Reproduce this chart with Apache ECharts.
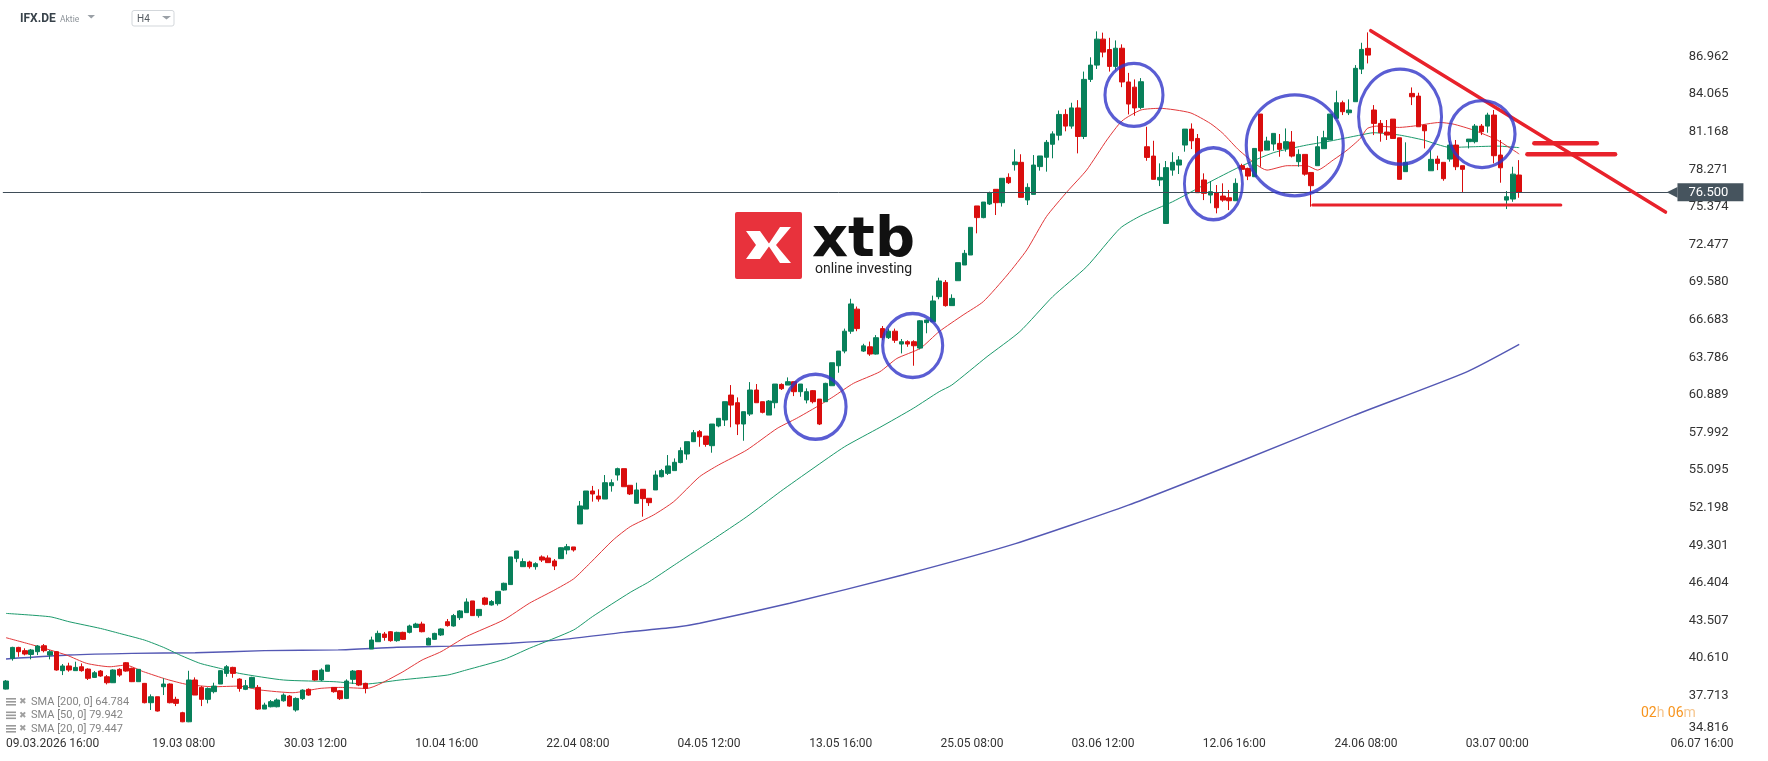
<!DOCTYPE html>
<html>
<head>
<meta charset="utf-8">
<script src="https://cdn.jsdelivr.net/npm/echarts@6/dist/echarts.min.js"></script>
<style>
  html, body { margin: 0; padding: 0; background: #fff; }
  #chart { width: 1768px; height: 761px; }
</style>
</head>
<body>
<div id="chart"></div>
<script>
// H4 candles, each row is [open, close, low, high]
const candlesMar = [
  [38.23, 38.85, 38.20, 38.93], [40.60, 41.44, 40.42, 41.49], [41.44, 41.11, 40.72, 41.49], [41.19, 40.93, 40.83, 41.37],
  [40.90, 41.24, 40.52, 41.32], [41.11, 41.55, 40.85, 41.62], [41.57, 41.19, 41.06, 41.70], [40.85, 41.11, 40.52, 41.24],
  [41.11, 39.70, 39.65, 41.15], [39.65, 40.01, 39.31, 40.16], [40.01, 39.70, 39.57, 40.26], [39.65, 39.90, 39.65, 40.34],
  [39.95, 39.65, 39.57, 40.21], [39.77, 39.06, 38.93, 39.83], [39.13, 39.49, 39.10, 39.62], [39.62, 39.24, 39.18, 39.70],
  [39.18, 38.72, 38.59, 39.31], [38.72, 39.70, 38.70, 39.75], [39.75, 39.31, 39.18, 39.83], [40.26, 39.62, 39.57, 40.31],
  [39.83, 38.80, 38.77, 39.88], [38.80, 39.75, 38.80, 39.78], [38.67, 37.18, 37.13, 38.70], [37.18, 37.64, 36.62, 37.82],
  [37.64, 36.54, 36.50, 37.64], [38.41, 38.62, 37.77, 39.06], [38.62, 37.18, 37.13, 38.67], [37.44, 37.13, 36.92, 37.64],
  [36.41, 35.71, 35.68, 36.48], [35.71, 38.93, 35.68, 39.64], [38.93, 37.77, 37.77, 39.13], [38.36, 37.44, 36.92, 38.46],
  [37.44, 38.28, 37.13, 38.36], [38.03, 38.46, 37.90, 38.72], [38.62, 39.65, 38.62, 39.70], [39.44, 39.95, 39.18, 40.08],
  [39.90, 39.44, 39.10, 39.95], [39.00, 38.28, 38.03, 39.06], [38.21, 38.49, 38.15, 38.93], [38.34, 39.13, 38.34, 39.18],
  [38.36, 36.69, 36.62, 38.54], [36.69, 37.00, 36.69, 37.18], [36.87, 37.26, 36.82, 37.39], [36.87, 37.39, 36.82, 37.51],
  [37.33, 37.77, 37.26, 37.90], [37.69, 36.92, 36.87, 37.77], [36.62, 37.51, 36.49, 37.59], [37.49, 38.15, 37.39, 38.21],
  [38.21, 37.77, 37.72, 38.28], [39.65, 38.93, 38.87, 39.70], [38.93, 39.70, 38.85, 39.83], [39.60, 40.08, 39.60, 40.08],
  [38.36, 38.03, 37.95, 38.36], [38.10, 37.49, 37.39, 38.15], [37.51, 38.85, 37.46, 38.98], [38.98, 39.62, 38.62, 39.70],
  [39.65, 38.54, 38.46, 39.70], [38.67, 38.28, 37.90, 38.72]
];
const candlesApr = [
  [41.32, 42.01, 41.32, 42.27], [41.88, 42.52, 41.88, 42.73], [42.47, 42.21, 41.96, 42.63], [42.65, 41.96, 41.88, 42.70],
  [41.96, 42.60, 41.88, 42.65], [42.60, 42.06, 42.01, 42.65], [42.60, 43.09, 42.52, 43.19], [42.98, 43.24, 42.93, 43.34],
  [43.24, 42.65, 42.60, 43.42], [41.62, 42.14, 41.62, 42.21], [42.06, 42.52, 42.01, 42.57], [42.40, 42.86, 42.32, 42.91],
  [43.42, 43.12, 43.04, 43.63], [43.09, 43.89, 43.04, 44.02], [43.73, 44.25, 43.55, 44.32], [44.12, 44.94, 44.12, 45.22],
  [45.02, 43.89, 43.89, 45.02], [43.89, 44.37, 43.73, 44.37], [45.25, 44.76, 44.68, 45.33], [44.71, 44.97, 44.66, 45.09],
  [44.81, 45.76, 44.66, 45.76], [45.86, 46.38, 45.81, 46.43], [46.28, 48.41, 46.28, 48.41], [48.30, 48.87, 48.00, 48.87],
  [47.66, 48.05, 47.66, 48.30], [48.02, 47.66, 47.51, 48.12], [47.66, 47.89, 47.43, 48.00], [48.41, 48.17, 48.02, 48.53],
  [48.33, 47.97, 47.97, 48.53], [48.10, 47.71, 47.40, 48.25], [48.28, 49.12, 48.28, 49.15], [48.95, 49.20, 48.61, 49.41],
  [49.18, 48.95, 48.82, 49.18], [50.95, 52.34, 50.95, 52.72], [52.10, 53.49, 52.10, 53.49], [53.49, 53.26, 52.67, 53.88],
  [53.10, 52.87, 52.67, 53.62], [52.87, 54.13, 52.87, 54.72], [53.90, 54.13, 53.44, 54.39], [54.72, 55.21, 54.29, 55.29],
  [55.21, 53.82, 53.82, 55.21], [53.93, 53.26, 53.18, 53.93], [52.54, 53.57, 52.54, 54.13], [53.62, 52.90, 51.51, 53.62],
  [52.93, 52.59, 52.34, 52.93], [53.57, 54.72, 53.57, 55.06], [54.59, 55.06, 54.54, 55.19], [54.85, 55.42, 54.72, 56.26],
  [55.06, 55.70, 55.06, 56.00], [55.68, 56.60, 55.62, 56.85], [56.34, 57.29, 55.90, 57.29], [57.29, 57.98, 57.26, 58.19]
];
const candlesMay = [
  [58.06, 57.67, 56.90, 58.19], [57.72, 57.08, 56.90, 57.72], [56.98, 58.65, 56.44, 58.65], [58.50, 59.09, 58.40, 59.09],
  [58.96, 60.37, 58.50, 60.37], [60.88, 60.11, 58.40, 61.65], [60.29, 58.65, 57.80, 60.70], [58.65, 59.60, 57.36, 59.60],
  [59.42, 61.27, 59.27, 61.88], [61.27, 60.29, 60.29, 61.73], [60.37, 59.55, 59.47, 60.37], [59.34, 60.42, 59.34, 60.50],
  [60.29, 61.73, 59.86, 61.73], [61.70, 61.37, 61.27, 61.78], [61.65, 61.91, 61.65, 62.24], [61.91, 61.14, 60.80, 61.91],
  [61.14, 61.73, 60.75, 61.73], [60.50, 61.14, 60.24, 61.40], [61.22, 60.37, 60.24, 61.27], [60.57, 58.65, 58.57, 60.57],
  [60.37, 61.78, 60.37, 61.83], [61.60, 63.37, 61.60, 63.37], [63.14, 64.27, 62.60, 64.27], [64.27, 65.80, 64.10, 66.00],
  [65.80, 67.90, 65.60, 68.30], [67.50, 66.00, 65.80, 67.70], [64.27, 64.67, 64.20, 64.83], [64.60, 64.04, 63.90, 65.00],
  [64.04, 65.30, 64.00, 65.50], [66.00, 65.30, 65.10, 66.20], [65.30, 65.80, 65.20, 66.00], [65.80, 65.10, 64.90, 66.00],
  [64.81, 64.99, 64.09, 65.20], [64.99, 64.81, 64.60, 65.10], [64.99, 64.68, 63.14, 65.10], [64.50, 66.60, 64.40, 66.65],
  [66.46, 66.66, 65.64, 66.70], [66.53, 68.13, 66.53, 68.54], [68.46, 69.67, 68.26, 69.92], [69.56, 67.77, 67.69, 69.74],
  [67.77, 68.33, 67.77, 68.64], [69.69, 71.08, 69.69, 71.08], [70.90, 71.80, 70.90, 72.06], [71.67, 73.80, 71.67, 73.80],
  [75.45, 74.55, 73.34, 75.45], [74.55, 75.75, 74.50, 75.75], [75.60, 76.47, 75.52, 76.55], [76.73, 75.70, 74.75, 76.73],
  [75.70, 77.58, 75.40, 77.58], [77.65, 77.24, 77.14, 77.96], [78.63, 78.84, 78.17, 79.81], [78.81, 76.11, 76.11, 79.43],
  [75.91, 76.88, 75.52, 77.19], [76.34, 78.60, 76.34, 79.37], [78.48, 79.30, 78.17, 79.30], [79.20, 80.35, 78.09, 80.53],
  [80.20, 81.00, 79.12, 81.20]
];
const candlesJun = [
  [80.90, 82.50, 80.50, 82.80], [82.50, 81.60, 81.20, 82.90], [81.60, 83.00, 81.40, 83.40], [83.00, 80.80, 79.50, 83.60],
  [80.80, 85.20, 80.60, 85.80], [85.20, 86.30, 85.00, 86.90], [86.30, 88.30, 86.00, 88.90], [88.30, 87.30, 86.90, 88.80],
  [87.50, 86.20, 85.80, 88.40], [86.20, 87.60, 85.90, 88.20], [87.60, 85.00, 84.60, 87.90], [85.00, 83.30, 82.50, 85.70],
  [84.60, 83.00, 82.40, 85.20], [83.04, 85.02, 82.90, 85.30], [80.01, 79.19, 78.93, 81.55], [79.29, 77.50, 77.50, 80.47],
  [77.45, 77.65, 76.98, 78.73], [74.10, 78.40, 74.10, 78.91], [78.21, 78.81, 77.78, 79.58], [78.60, 78.99, 77.91, 79.29],
  [80.14, 81.37, 79.63, 81.37], [81.37, 80.47, 79.83, 81.81], [80.65, 76.47, 76.47, 80.99], [77.45, 76.42, 75.90, 77.96],
  [76.29, 76.55, 75.65, 77.37], [76.47, 75.31, 74.88, 77.06], [76.21, 75.90, 75.77, 77.19], [76.08, 75.85, 75.13, 76.68],
  [75.85, 77.19, 75.85, 77.57], [78.55, 78.27, 78.10, 78.70], [78.34, 77.75, 77.44, 78.40], [77.70, 79.88, 77.70, 79.88],
  [82.53, 79.68, 78.47, 82.53], [79.75, 80.45, 79.75, 80.78], [80.22, 81.04, 79.70, 81.04], [80.27, 79.81, 79.24, 80.99],
  [79.88, 80.40, 79.63, 81.42], [80.37, 79.29, 79.19, 81.22], [78.86, 79.42, 78.47, 79.81], [79.42, 77.90, 77.78, 79.42],
  [78.03, 77.01, 75.39, 78.03], [78.55, 80.01, 78.55, 80.83], [79.86, 80.70, 79.86, 81.24], [80.53, 82.53, 80.53, 82.53],
  [82.20, 83.40, 82.20, 84.33], [83.40, 82.71, 82.45, 83.56], [82.63, 82.84, 82.45, 83.66], [83.48, 86.05, 83.48, 86.30],
  [85.99, 87.51, 85.61, 88.02], [87.59, 87.07, 86.43, 88.82], [82.84, 81.81, 80.91, 83.22], [81.81, 81.09, 80.40, 82.07],
  [81.14, 80.91, 80.53, 82.07], [82.14, 80.65, 80.65, 82.14], [80.70, 77.50, 77.50, 80.70], [78.09, 78.81, 78.09, 80.35],
  [84.12, 83.86, 83.22, 84.58], [83.91, 81.55, 81.55, 84.17], [81.68, 81.24, 79.88, 81.68], [78.16, 79.04, 78.16, 79.75],
  [79.06, 78.73, 78.21, 79.32], [78.81, 77.55, 77.39, 78.81], [79.06, 80.14, 78.86, 80.45], [80.14, 78.47, 78.21, 80.53],
  [78.55, 78.27, 76.50, 78.55], [80.40, 80.60, 79.88, 80.60], [80.40, 81.60, 80.27, 81.76], [81.60, 81.17, 80.91, 81.76],
  [81.60, 82.45, 81.09, 82.63], [82.45, 79.32, 78.73, 82.84], [79.37, 78.39, 77.24, 80.53], [75.90, 76.16, 75.21, 76.60],
  [75.98, 77.90, 75.77, 78.47], [77.83, 76.50, 76.08, 78.98]
];

// moving averages as [bar index, value]
const sma20 = [
  [0, 42.19], [4.3, 41.62], [9.6, 40.85], [12.8, 40.21], [16.5, 39.95], [19, 40.08], [21.8, 39.57], [25.5, 38.98],
  [28.7, 38.59], [32.9, 38.41], [37, 38.46], [40.3, 38.16], [45.5, 37.95], [49.8, 38.28], [53, 38.36], [57.2, 38.28],
  [62.5, 39.44], [66, 40.47], [69, 41.11], [73, 42.27], [78.9, 43.55], [83, 44.84], [86.8, 45.81], [90, 46.71],
  [92.6, 47.92], [96.3, 49.72], [99, 50.74], [102.7, 51.64], [105.9, 52.67], [110, 54.59], [113, 55.49], [117.5, 56.65],
  [122.3, 58.31], [125.4, 59.09], [128.6, 59.98], [131.2, 60.75], [134.4, 61.78], [138.6, 62.68], [141.3, 63.7],
  [145, 64.48], [148, 65.77], [151.8, 67.05], [155, 68.08], [158.8, 70.13], [161.9, 72.06], [165, 74.62], [168.3, 76.55],
  [171.4, 78.22], [174.6, 80.53], [177, 82.0], [180, 82.84], [183, 82.97], [187.8, 82.63], [191, 81.81], [193, 81.04],
  [195.7, 79.68], [200, 78.21], [203.2, 78.55], [206.3, 78.55], [208, 78.21], [210.5, 78.99], [212.7, 79.75],
  [214.8, 80.65], [215.9, 81.42], [217.4, 81.6], [221, 81.5], [223.2, 81.6], [227.4, 81.88], [229.5, 81.76],
  [232.7, 81.3], [236.5, 80.53], [240, 79.447]
];
const sma50 = [
  [0, 44.06], [7, 43.8], [10, 43.42], [15, 42.9], [18, 42.52], [22, 42.0], [25, 41.44], [27.6, 40.85], [30.8, 40.21],
  [34, 39.82], [37, 39.44], [44, 38.93], [52, 38.8], [57, 38.62], [62.5, 38.93], [70, 39.31], [73, 39.7], [79, 40.52],
  [83, 41.37], [90, 42.78], [93, 43.81], [99, 45.68], [102, 46.5], [106, 47.79], [110, 49.07], [112, 49.71],
  [117.5, 51.51], [122.8, 53.44], [128, 55.23], [133, 56.9], [138.6, 58.39], [143.9, 59.86], [148, 61.14], [150, 61.65],
  [155.6, 63.84], [160.8, 65.77], [166, 68.46], [171.4, 70.77], [176.7, 73.73], [180, 74.7], [185, 75.77],
  [190.5, 77.19], [195.7, 78.47], [201, 79.55], [206.3, 80.14], [209.5, 80.4], [211.6, 80.6], [214.8, 80.91],
  [216.9, 81.09], [221, 80.91], [224.8, 80.53], [229, 79.96], [232.7, 80.01], [236.5, 80.06], [240, 79.942]
];
const sma200 = [
  [0, 40.55], [10, 40.85], [20, 40.98], [30, 41.03], [41, 41.19], [52.7, 41.25], [62, 41.45], [70.6, 41.54],
  [80, 41.76], [88.5, 42.06], [98, 42.6], [106.4, 43.01], [110, 43.3], [124.3, 44.84], [142.2, 47.02],
  [160.1, 49.44], [178, 52.4], [195.9, 55.8], [213.7, 59.3], [231.6, 62.65], [240, 64.784]
];
const lastPrice = 76.5;

// axis
const yMin = 34.816;
const yStep = 2.897;
const xLabelBars = [7.4, 28.2, 49.1, 69.9, 90.7, 111.5, 132.4, 153.2, 174.0, 194.8, 215.7, 236.5];
const xLabelText = ['09.03.2026 16:00', '19.03 08:00', '30.03 12:00', '10.04 16:00', '22.04 08:00', '04.05 12:00',
  '13.05 16:00', '25.05 08:00', '03.06 12:00', '12.06 16:00', '24.06 08:00', '03.07 00:00'];
const xEndLabelBar = 264;
const xEndLabelText = '06.07 16:00';
const legendRows = ['SMA [200, 0] 64.784', 'SMA [50, 0] 79.942', 'SMA [20, 0] 79.447'];

// drawn annotations: [bar, price, width px, height px]
const circleMarks = [
  [128.4, 59.98, 61, 65], [143.8, 64.7, 60, 64], [178.9, 84.0, 58, 63], [191.5, 77.16, 58, 72],
  [204.4, 80.12, 97, 101], [221.1, 82.33, 83, 95], [234.1, 80.99, 66, 67]
];
const trendLine = [[216.45, 88.95], [263.2, 74.98]];
const supportLine = [[207.25, 75.52], [246.6, 75.52]];
const flagUpper = [[242.4, 80.28], [252.3, 80.28]];
const flagLower = [[241.3, 79.43], [255.2, 79.43]];

const GREEN = '#08805a';
const RED = '#d90d0d';
const slots = 265;

const ohlc = [].concat(candlesMar, candlesApr, candlesMay, candlesJun);
const categories = Array.from({ length: slots }, (_, i) => String(i));
const yMax = yMin + 19 * yStep;

const chart = echarts.init(document.getElementById('chart'));

function redLine(data, width) {
  return {
    type: 'line', xAxisIndex: 1, data: data, showSymbol: false, silent: true, z: 6,
    lineStyle: { color: '#e8222b', width: width, cap: 'round' }
  };
}
function smaLine(data, color, width) {
  return {
    type: 'line', xAxisIndex: 1, data: data, showSymbol: false, silent: true, smooth: 0.2, z: 3,
    lineStyle: { color: color, width: width }
  };
}

const legendGraphics = [];
legendRows.forEach((t, k) => {
  const y = 702 + k * 13.5;
  legendGraphics.push(
    { type: 'rect', shape: { x: 6, y: y - 4, width: 10, height: 1.6 }, style: { fill: '#9a9a9a' } },
    { type: 'rect', shape: { x: 6, y: y - 1, width: 10, height: 1.6 }, style: { fill: '#9a9a9a' } },
    { type: 'rect', shape: { x: 6, y: y + 2, width: 10, height: 1.6 }, style: { fill: '#9a9a9a' } },
    { type: 'text', x: 19, y: y, style: { text: '✖', font: '9px "DejaVu Sans"', fill: '#a0a0a0', verticalAlign: 'middle' } },
    { type: 'text', x: 31, y: y, style: { text: t, font: '11px Roboto', fill: '#858585', verticalAlign: 'middle' } }
  );
});

const labelFont = { color: '#333', fontFamily: 'Roboto', fontSize: 12 };

chart.setOption({
  animation: false,
  backgroundColor: '#ffffff',
  grid: { left: 2.85, right: 94.3, top: 18.9, bottom: 27.6 },
  xAxis: [
    {
      type: 'category', data: categories, boundaryGap: true,
      axisLine: { show: false }, axisTick: { show: false }, splitLine: { show: false },
      axisLabel: Object.assign({
        interval: (i) => i === xEndLabelBar,
        formatter: (v, i) => (i === xEndLabelBar ? xEndLabelText : ''),
        align: 'left', margin: 5, hideOverlap: false
      }, labelFont)
    },
    {
      type: 'value', position: 'bottom', min: -0.5, max: slots - 0.5,
      axisLine: { show: false }, axisTick: { show: false }, splitLine: { show: false },
      axisLabel: Object.assign({
        customValues: xLabelBars,
        formatter: (v) => {
          const k = xLabelBars.findIndex(b => Math.abs(b - v) < 1e-6);
          return k >= 0 ? xLabelText[k] : '';
        },
        align: 'center', margin: 5, hideOverlap: false, showMinLabel: true, showMaxLabel: true
      }, labelFont)
    }
  ],
  yAxis: {
    type: 'value', position: 'right', min: yMin, max: yMax, interval: yStep, scale: true,
    axisLine: { show: false }, axisTick: { show: false }, splitLine: { show: false },
    axisLabel: {
      align: 'left', margin: 15, color: '#333', fontFamily: 'Roboto', fontSize: 13,
      formatter: (v) => {
        if (v > yMax - 1e-6) return '';
        return Math.abs(v - yMin) < 1e-6 ? '{lo|' + v.toFixed(3) + '}' : v.toFixed(3);
      },
      rich: { lo: { padding: [0, 0, 12, 0], color: '#333', fontFamily: 'Roboto', fontSize: 13 } }
    }
  },
  series: [
    smaLine(sma200, '#5458b4', 1.4),
    smaLine(sma50, '#1c9a6c', 1),
    smaLine(sma20, '#e2383a', 1),
    {
      type: 'candlestick', data: ohlc, barWidth: 5, z: 4,
      itemStyle: { color: GREEN, color0: RED, borderColor: GREEN, borderColor0: RED, borderWidth: 1 },
      markLine: {
        silent: true, symbol: ['none', 'none'], animation: false,
        lineStyle: { color: '#3f4d58', width: 1, type: 'solid' },
        label: {
          position: 'end', distance: -7, formatter: '{a|◀}{b|' + lastPrice.toFixed(3) + '}',
          rich: {
            a: { color: '#46545e', fontSize: 14, fontFamily: 'DejaVu Sans' },
            b: {
              color: '#fff', backgroundColor: '#46545e', padding: [3, 15, 2, 11],
              fontFamily: 'Roboto', fontSize: 13
            }
          }
        },
        data: [{ yAxis: lastPrice }]
      }
    },
    {
      type: 'scatter', xAxisIndex: 1, silent: true, z: 7, symbol: 'circle',
      data: circleMarks.map(c => ({ value: [c[0], c[1]], symbolSize: [c[2], c[3]] })),
      itemStyle: { color: 'rgba(0,0,0,0)', borderColor: '#3134c8', borderWidth: 3.2 }
    },
    redLine(trendLine, 3.5),
    redLine(supportLine, 3),
    redLine(flagUpper, 4.5),
    redLine(flagLower, 4.5)
  ],
  graphic: [
    { type: 'text', x: 20, y: 19, style: { text: 'IFX.DE', font: 'bold 12px Roboto', fill: '#38424a', verticalAlign: 'middle' } },
    { type: 'text', x: 60, y: 19.5, style: { text: 'Aktie', font: '8.5px Roboto', fill: '#8d9399', verticalAlign: 'middle' } },
    { type: 'polygon', shape: { points: [[87.5, 15], [95, 15], [91.25, 18.5]] }, style: { fill: '#9aa0a6' } },
    { type: 'rect', shape: { x: 132, y: 10.5, width: 42, height: 15.5, r: 2 }, style: { fill: '#fff', stroke: '#d3d7db', lineWidth: 1 } },
    { type: 'text', x: 137, y: 19.5, style: { text: 'H4', font: '10px Roboto', fill: '#555b61', verticalAlign: 'middle' } },
    { type: 'polygon', shape: { points: [[162, 16], [171, 16], [166.5, 19.5]] }, style: { fill: '#9aa0a6' } },
    // xtb logo
    { type: 'rect', shape: { x: 735, y: 212, width: 67, height: 67, r: 2 }, style: { fill: '#e8323c' } },
    { type: 'polygon', shape: { points: [[746, 231], [760, 231], [770, 245], [760, 259], [746, 259], [756, 245]] }, style: { fill: '#fff' } },
    { type: 'polygon', shape: { points: [[791, 227], [776, 245], [791, 263], [780, 263], [768, 245], [780, 227]] }, style: { fill: '#fff' } },
    { type: 'text', x: 812, y: 241, style: { text: 'xtb', font: 'bold 56px "DejaVu Sans"', fill: '#111', verticalAlign: 'middle' } },
    { type: 'text', x: 815, y: 269, style: { text: 'online investing', font: '14px Roboto', fill: '#222', verticalAlign: 'middle' } },
    // countdown
    {
      type: 'text', x: 1641, y: 713,
      style: {
        text: '{d|02}{u|h} {d|06}{u|m}', verticalAlign: 'middle',
        rich: {
          d: { fill: '#f7941d', font: '14px Roboto' },
          u: { fill: '#f6c58c', font: '14px Roboto' }
        }
      }
    }
  ].concat(legendGraphics)
});
</script>
</body>
</html>
